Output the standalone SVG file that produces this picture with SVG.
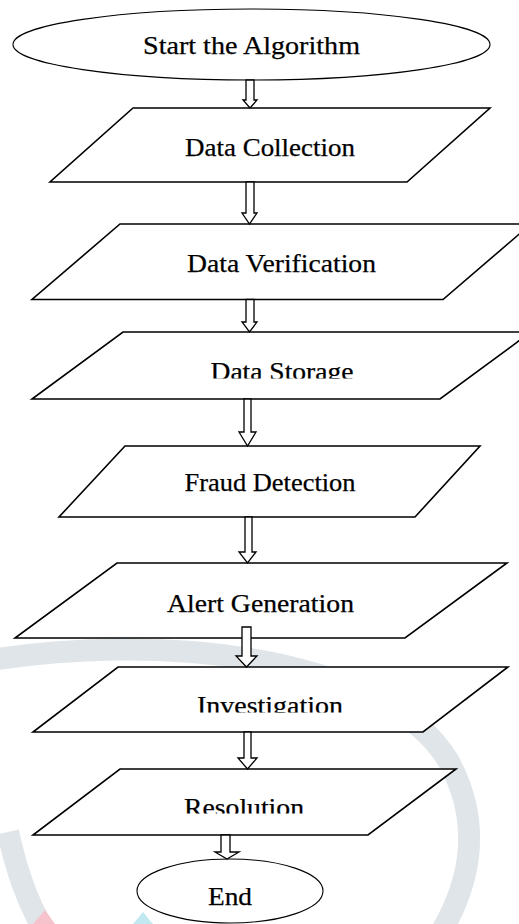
<svg xmlns="http://www.w3.org/2000/svg" width="519" height="924" viewBox="0 0 519 924">
  <style>
    .bg { fill: #ffffff; }
    .wm { fill: none; stroke: #dfe5e9; stroke-width: 22; stroke-linecap: butt; }
    .shape { fill: #ffffff; stroke: #000000; stroke-width: 1.6; stroke-linejoin: miter; }
    .oval { fill: #ffffff; stroke: #000000; stroke-width: 1.1; }
    .arrow { fill: #ffffff; stroke: #000000; stroke-width: 1.3; stroke-linejoin: miter; }
    .label { font-family: "Liberation Serif", "DejaVu Serif", serif; font-size: 26px; fill: #000000; stroke: #000000; stroke-width: 0.25; text-anchor: middle; }
  </style>
  <defs>
    <clipPath id="clipStorage"><rect x="0" y="340" width="519" height="38.5"/></clipPath>
    <clipPath id="clipInvest"><rect x="0" y="680" width="519" height="32.5"/></clipPath>
    <clipPath id="clipResol"><rect x="0" y="780" width="519" height="33.5"/></clipPath>
  </defs>
  <rect class="bg" x="0" y="0" width="519" height="924"/>

  <g id="watermark">
    <path class="wm" d="M-20,662 C150,632 380,652 448,760 C482,822 472,880 440,934"/>
    <path class="wm" d="M8,832 C16,868 26,900 46,934"/>
    <polygon points="33,924 45,910 55,924" fill="#f6c3cc"/>
    <polygon points="133,924 143,912 153,924" fill="#c2e8f1"/>
  </g>

  <g id="start">
    <ellipse class="oval" cx="251.5" cy="44.5" rx="238.5" ry="35.5"/>
    <text class="label" x="251.5" y="54" textLength="217" lengthAdjust="spacingAndGlyphs">Start the Algorithm</text>
  </g>

  <g id="data-collection">
    <polygon class="shape" points="133,108 490,108 407,182 50,182"/>
    <text class="label" x="270" y="156" textLength="170" lengthAdjust="spacingAndGlyphs">Data Collection</text>
  </g>

  <g id="data-verification">
    <polygon class="shape" points="120,224 531,224 443,299.5 32,299.5"/>
    <text class="label" x="281.5" y="272" textLength="189" lengthAdjust="spacingAndGlyphs">Data Verification</text>
  </g>

  <g id="data-storage">
    <polygon class="shape" points="123,332 531,332 440,399 32,399"/>
    <text class="label" x="282" y="380" textLength="143" lengthAdjust="spacingAndGlyphs" clip-path="url(#clipStorage)">Data Storage</text>
  </g>

  <g id="fraud-detection">
    <polygon class="shape" points="125,446 480,446 415,517 59,517"/>
    <text class="label" x="270" y="491" textLength="171" lengthAdjust="spacingAndGlyphs">Fraud Detection</text>
  </g>

  <g id="alert-generation">
    <polygon class="shape" points="117,563 507,563 405,638 15,638"/>
    <text class="label" x="260.5" y="612" textLength="187" lengthAdjust="spacingAndGlyphs">Alert Generation</text>
  </g>

  <g id="investigation">
    <polygon class="shape" points="118,667 508,667 423,732 33,732"/>
    <text class="label" x="270" y="714" textLength="146" lengthAdjust="spacingAndGlyphs" clip-path="url(#clipInvest)">Investigation</text>
  </g>

  <g id="resolution">
    <polygon class="shape" points="120,769 456,769 368,835 33,835"/>
    <text class="label" x="244" y="816" textLength="120" lengthAdjust="spacingAndGlyphs" clip-path="url(#clipResol)">Resolution</text>
  </g>

  <g id="end">
    <ellipse class="oval" cx="230" cy="891" rx="93" ry="32"/>
    <text class="label" x="230" y="905" textLength="44" lengthAdjust="spacingAndGlyphs">End</text>
  </g>

  <g id="connectors">
    <path class="arrow" d="M246,80 L254,80 L254,100 L257,100 L250,108 L243,100 L246,100 Z"/>
    <path class="arrow" d="M246,182 L254,182 L254,213 L257,213 L249.5,224 L242,213 L246,213 Z"/>
    <path class="arrow" d="M246,299.5 L254,299.5 L254,322 L257,322 L249.5,332 L242,322 L246,322 Z"/>
    <path class="arrow" d="M244,399 L251,399 L251,432 L256,432 L247.5,446 L239,432 L244,432 Z"/>
    <path class="arrow" d="M245,517 L252,517 L252,552 L256,552 L247.5,563 L239,552 L245,552 Z"/>
    <path class="arrow" d="M242,627 L251,627 L251,656 L257,656 L246.5,667 L236,656 L242,656 Z"/>
    <path class="arrow" d="M244,732 L251,732 L251,758 L257,758 L247.5,769 L238,758 L244,758 Z"/>
    <path class="arrow" d="M221,835 L230,835 L230,852 L239,852 L227,859 L215,852 L221,852 Z"/>
  </g>
</svg>
